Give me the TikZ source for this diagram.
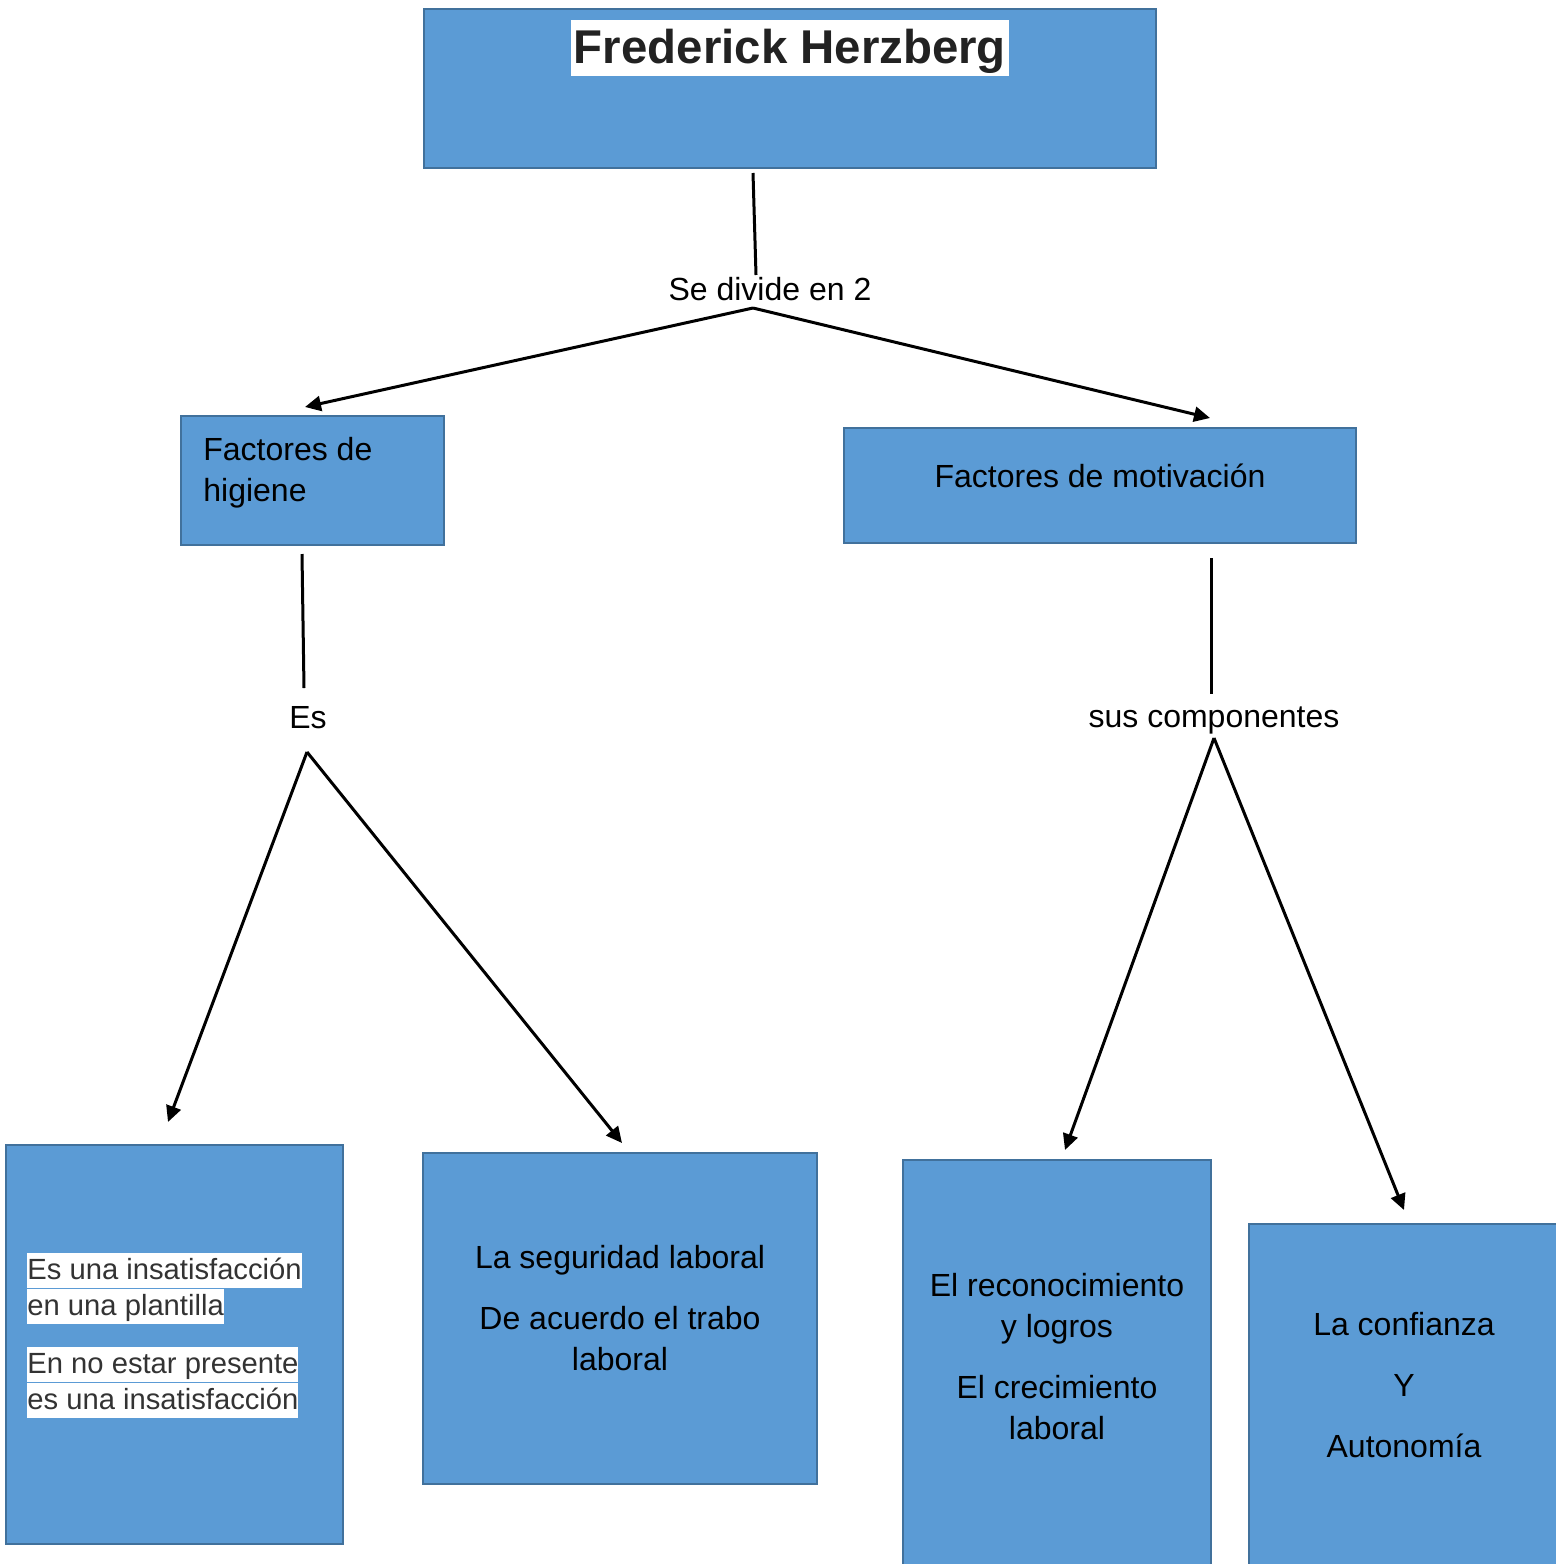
\documentclass[tikz,border=0pt]{standalone}
\usepackage{fontspec}
\setmainfont{Liberation Sans}
\usetikzlibrary{arrows.meta}
\definecolor{boxfill}{HTML}{5B9BD5}
\definecolor{boxline}{HTML}{41719C}
\definecolor{darktext}{HTML}{333333}
\definecolor{titletext}{HTML}{222222}
\newcommand\hlline[1]{{\setlength{\fboxsep}{0pt}\colorbox{white}{\rule[-4pt]{0pt}{17.5pt}#1}}}
\begin{document}
\begin{tikzpicture}[x=0.5pt,y=-0.5pt,
  box/.style={draw=boxline, fill=boxfill, line width=1.2pt, inner sep=0pt, outer sep=0pt},
  conn/.style={line width=1.5pt, draw=black},
  arr/.style={conn, -{Triangle[length=8pt,width=7.5pt]}},
  lbl/.style={font=\fontsize{16}{20.5}\selectfont, inner sep=0pt, text=black}]
\useasboundingbox (0,0) rectangle (1556,1564);

% boxes
\node[box, minimum width=366pt, minimum height=79.5pt] (title) at (790,88.5) {};
\node[box, minimum width=131.5pt, minimum height=64.5pt] (hig) at (312.5,480.5) {};
\node[box, minimum width=256pt, minimum height=57.5pt] (mot) at (1100,485.5) {};
\node[box, minimum width=168.5pt, minimum height=199.5pt] (ins) at (174.5,1344.5) {};
\node[box, minimum width=197pt, minimum height=165.5pt] (seg) at (620,1318.5) {};
\node[box, minimum width=154pt, minimum height=220pt] (rec) at (1057,1380) {};
\node[box, minimum width=175.5pt, minimum height=188pt] (conf) at (1424.5,1412) {};

% texts
\node[fill=white, inner xsep=1.5pt, inner ysep=0pt, text height=21.5pt, text depth=6.5pt,
  text=titletext, font=\fontsize{23.7}{28}\selectfont\bfseries] (titlet) at (790,48) {Frederick Herzberg};
\node[lbl, anchor=west, align=left] (higt) at (203,473) {Factores de\\higiene};
\node[lbl] (mott) at (1100,476) {Factores de motivación};
\node[lbl, anchor=west, align=left, text=darktext, font=\fontsize{14.6}{18}\selectfont] (inst) at (27,1335)
  {\hlline{Es una insatisfacción}\\\hlline{en una plantilla}\\[11pt]\hlline{En no estar presente}\\\hlline{es una insatisfacción}};
\node[lbl, align=center] (segt) at (620,1308) {La seguridad laboral\\[10pt]De acuerdo el trabo\\laboral};
\node[lbl, align=center] (rect) at (1057,1357) {El reconocimiento\\y logros\\[10pt]El crecimiento\\laboral};
\node[lbl, align=center] (conft) at (1404,1385.5) {La confianza\\[10pt]Y\\[10pt]Autonomía};

% labels
\node[lbl] (div) at (770,289) {Se divide en 2};
\node[lbl] (es) at (308,718) {Es};
\node[lbl] (sus) at (1214,720) {sus componentes};

% connector end points
\coordinate (a1) at (753,173);
\coordinate (a2) at (756,275);
\coordinate (j1) at (753,308);
\coordinate (h1) at (305,407);
\coordinate (m1) at (1210,418);
\coordinate (b1) at (302,554);
\coordinate (b2) at (304,688);
\coordinate (j2) at (307,752);
\coordinate (l1) at (168,1122);
\coordinate (s1) at (622,1143);
\coordinate (c1) at (1211,558);
\coordinate (c2) at (1211,694);
\coordinate (j3) at (1214,738);
\coordinate (r1) at (1065,1150);
\coordinate (f1) at (1404,1210);

% connectors
\draw[conn] (a1) -- (a2);
\draw[arr] (j1) -- (h1);
\draw[arr] (j1) -- (m1);
\draw[conn] (b1) -- (b2);
\draw[arr] (j2) -- (l1);
\draw[arr] (j2) -- (s1);
\draw[conn] (c1) -- (c2);
\draw[arr] (j3) -- (r1);
\draw[arr] (j3) -- (f1);
\end{tikzpicture}
\end{document}
